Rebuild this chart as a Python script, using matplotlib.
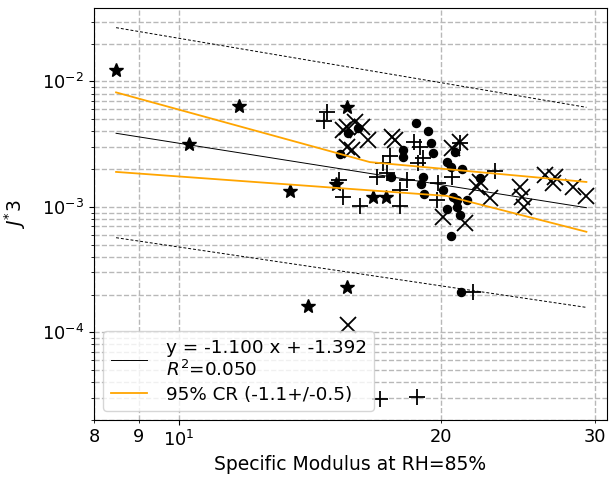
import numpy as np
import matplotlib
matplotlib.use("Agg")
import matplotlib.pyplot as plt
from matplotlib.ticker import FixedLocator, FuncFormatter, LogLocator, NullFormatter

# ---- data ----
star_x = [8.48, 10.28, 11.73, 13.41, 14.07, 15.59, 15.62, 15.15, 16.70, 17.28]
star_y = [0.01245, 0.00316, 0.00634, 0.00134, 0.000161, 0.000228, 0.00622, 0.00152, 0.00120, 0.00120]

circle_x = [18.71, 19.30, 19.46, 19.56, 18.08, 18.08, 15.63, 16.05, 15.31, 17.51,
            19.05, 18.95, 19.10, 20.73, 20.30, 20.51, 21.12, 20.13, 20.62, 20.84,
            20.84, 21.00, 20.30, 21.40, 20.51, 22.15, 21.06]
circle_y = [0.00464, 0.00401, 0.00322, 0.00268, 0.00283, 0.00249, 0.00387, 0.00424, 0.00263, 0.00173,
            0.00173, 0.00152, 0.00127, 0.00273, 0.00228, 0.00208, 0.00200, 0.00136, 0.00120, 0.00114,
            0.00100, 0.000864, 0.000964, 0.00114, 0.000589, 0.00170, 0.000208]

plus_x = [14.79, 14.67, 18.61, 18.90, 19.05, 18.80, 17.47, 17.15, 16.88, 17.33,
          17.93, 18.27, 19.82, 19.77, 20.57, 23.04, 15.27, 15.43, 16.14, 17.93,
          21.74, 18.75, 17.01, 21.00]
plus_y = [0.00568, 0.00482, 0.00328, 0.00299, 0.00245, 0.00224, 0.00254, 0.00224, 0.00173, 0.00186,
          0.00136, 0.00164, 0.00155, 0.00114, 0.00173, 0.00193, 0.00164, 0.00120, 0.00102, 0.00102,
          0.000208, 3.05e-5, 2.94e-5, 0.00322]

cross_x = [15.59, 15.93, 16.22, 15.43, 16.48, 15.59, 15.80, 17.56, 17.70, 20.57,
           21.00, 22.15, 21.97, 22.74, 24.61, 24.80, 24.93, 26.29, 26.99, 26.85,
           28.31, 29.36, 20.08, 21.29, 15.63]
cross_y = [0.00431, 0.00473, 0.00431, 0.00408, 0.00340, 0.00299, 0.00283, 0.00359, 0.00340, 0.00294,
           0.00328, 0.00158, 0.00144, 0.00118, 0.00144, 0.00120, 0.00100, 0.00180, 0.00173, 0.00155,
           0.00144, 0.00122, 0.000833, 0.000746, 0.000114]

# fit in log10 space
fit_slope = -1.100
fit_intercept = -1.392
fit_r2 = 0.050
fit_xrange = [8.48, 29.36]

# dashed prediction band end points
band_x = [8.48, 29.36]
band_upper = [0.02684, 0.00622]
band_lower = [0.000568, 0.000158]

# 95% CR envelopes (orange)
cr_upper_x = [8.48, 16.57, 29.36]
cr_upper_y = [0.00818, 0.002276, 0.00158]
cr_lower_x = [8.48, 20.3, 29.36]
cr_lower_y = [0.00190, 0.001223, 0.000633]

x_minor_labels = [8, 9, 20, 30]

# ---- figure ----
W, H = 609, 479
fig = plt.figure(figsize=(W / 100, H / 100), dpi=100)
ax = fig.add_axes([94 / W, (H - 420) / H, (607 - 94) / W, (420 - 8) / H])
ax.set_xscale('log')
ax.set_yscale('log')

ms_kw = dict(color='black', linestyle='none')
ax.plot(star_x, star_y, marker='*', markersize=10.5, **ms_kw)
ax.plot(circle_x, circle_y, marker='o', markersize=5.8, **ms_kw)
ax.plot(plus_x, plus_y, marker='+', markersize=12, markeredgewidth=1.3, **ms_kw)
ax.plot(cross_x, cross_y, marker='x', markersize=11, markeredgewidth=1.3, **ms_kw)

fx = np.array(fit_xrange)
fy = 10 ** (fit_slope * np.log10(fx) + fit_intercept)
ax.plot(fx, fy, color='black', lw=0.7,
        label='y = %.3f x + %.3f\n$R^2$=%.3f' % (fit_slope, fit_intercept, fit_r2))
ax.plot(band_x, band_upper, color='black', lw=0.7, ls=(0, (3, 2)))
ax.plot(band_x, band_lower, color='black', lw=0.7, ls=(0, (3, 2)))
ax.plot(cr_upper_x, cr_upper_y, color='orange', lw=1.3, label='95% CR (-1.1+/-0.5)')
ax.plot(cr_lower_x, cr_lower_y, color='orange', lw=1.3)

ax.set_xlim(8.0, 31.0)
ax.set_ylim(2.0e-5, 3.85e-2)

ax.xaxis.set_minor_locator(FixedLocator(x_minor_labels))
ax.xaxis.set_minor_formatter(FuncFormatter(lambda v, p: '%d' % round(v)))
ax.yaxis.set_minor_locator(LogLocator(base=10, subs=np.arange(2, 10)))
ax.yaxis.set_minor_formatter(NullFormatter())

ax.tick_params(axis='both', which='both', labelsize=12.8)
ax.grid(True, which='both', ls='--', color='#b8b8b8', lw=1.0)
ax.set_axisbelow(True)

ax.set_xlabel('Specific Modulus at RH=85%', fontsize=13.5)
ax.set_ylabel(r'$J^{*}3$', fontsize=13.5, labelpad=10)

ax.legend(loc='lower left', fontsize=13.2, labelspacing=0.3, borderpad=0.4,
          handletextpad=1.0)

fig.savefig('out.png', dpi=100)
